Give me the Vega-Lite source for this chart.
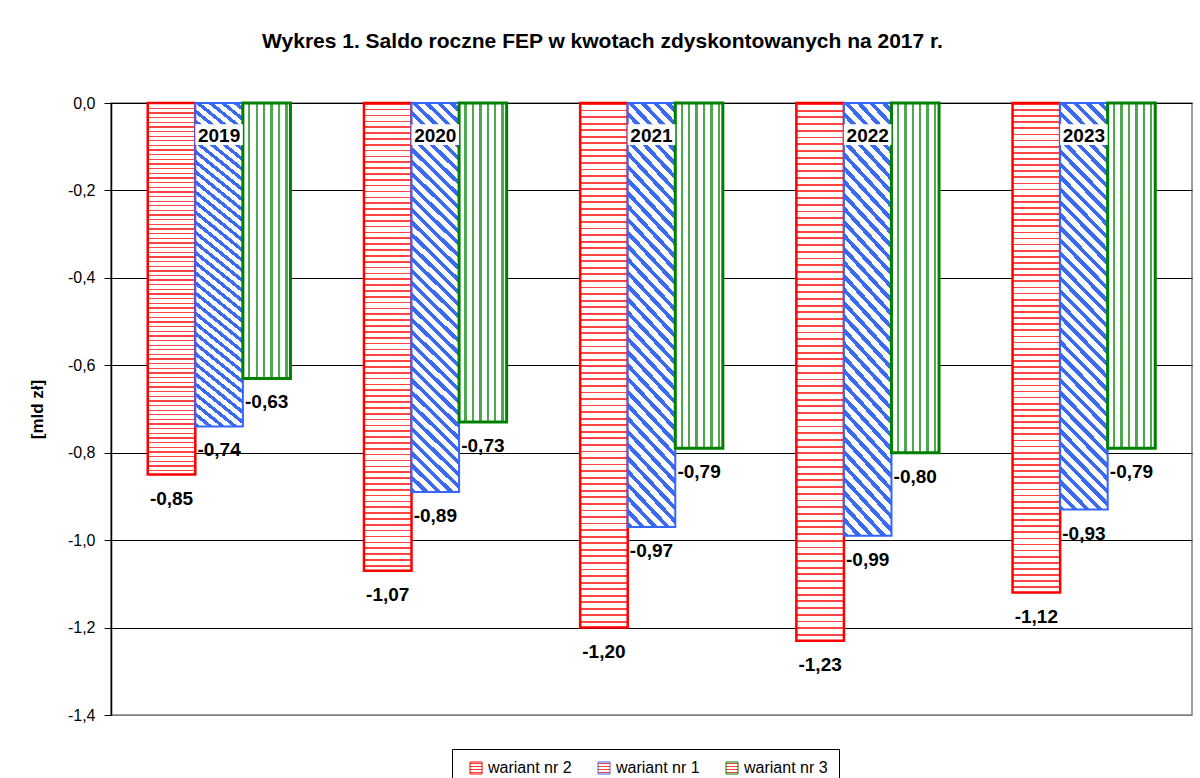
{
  "$schema": "https://vega.github.io/schema/vega-lite/v6.json",
  "width": 1081,
  "height": 612,
  "autosize": "none",
  "padding": {"left": 111, "top": 103, "right": 8, "bottom": 63},
  "background": "white",
  "title": {
    "text": "Wykres 1. Saldo roczne FEP w kwotach zdyskontowanych na 2017 r.",
    "font": "Liberation Sans",
    "fontSize": 21,
    "fontWeight": "bold",
    "color": "black",
    "anchor": "middle",
    "dx": -49,
    "offset": 43
  },
  "config": {
    "locale": {"number": {"decimal": ",", "thousands": " ", "grouping": [3], "currency": ["", " zł"], "minus": "-"}},
    "view": {"stroke": "#808080", "strokeWidth": 1.5}
  },
  "data": {
    "values": [
      {"year": "2019", "series": "wariant nr 2", "value": -0.85},
      {"year": "2019", "series": "wariant nr 1", "value": -0.74},
      {"year": "2019", "series": "wariant nr 3", "value": -0.63},
      {"year": "2020", "series": "wariant nr 2", "value": -1.07},
      {"year": "2020", "series": "wariant nr 1", "value": -0.89},
      {"year": "2020", "series": "wariant nr 3", "value": -0.73},
      {"year": "2021", "series": "wariant nr 2", "value": -1.20},
      {"year": "2021", "series": "wariant nr 1", "value": -0.97},
      {"year": "2021", "series": "wariant nr 3", "value": -0.79},
      {"year": "2022", "series": "wariant nr 2", "value": -1.23},
      {"year": "2022", "series": "wariant nr 1", "value": -0.99},
      {"year": "2022", "series": "wariant nr 3", "value": -0.80},
      {"year": "2023", "series": "wariant nr 2", "value": -1.12},
      {"year": "2023", "series": "wariant nr 1", "value": -0.93},
      {"year": "2023", "series": "wariant nr 3", "value": -0.79}
    ]
  },
  "encoding": {
    "x": {"field": "year", "type": "ordinal", "scale": {"paddingInner": 0.34, "paddingOuter": 0.17}, "axis": null},
    "xOffset": {"field": "series", "type": "nominal", "scale": {"domain": ["wariant nr 2", "wariant nr 1", "wariant nr 3"], "paddingInner": 0, "paddingOuter": 0}},
    "y": {
      "field": "value", "type": "quantitative",
      "scale": {"domain": [-1.4, 0], "nice": false, "zero": false},
      "axis": {
        "title": "[mld zł]",
        "values": [0, -0.2, -0.4, -0.6, -0.8, -1, -1.2, -1.4],
        "format": ".1f",
        "labelFont": "Liberation Sans", "labelFontSize": 16, "labelColor": "black", "labelPadding": 9,
        "tickSize": 7, "tickColor": "black", "tickWidth": 1,
        "domainColor": "black", "domainWidth": 1.5,
        "grid": true, "gridWidth": 1, "gridOpacity": 1,
        "gridColor": {"condition": {"test": "datum.value < -1.35", "value": "#808080"}, "value": "black"},
        "titleFont": "Liberation Sans", "titleFontSize": 17, "titleFontWeight": "bold", "titleColor": "black", "titlePadding": 21
      }
    }
  },
  "layer": [
    {
      "transform": [{"filter": "datum.series === 'wariant nr 2'"}],
      "mark": {"type": "bar", "strokeWidth": 2.5, "fill": {"gradient": "linear", "x1": 0, "y1": 0, "x2": 0, "y2": 1, "stops": [
        {"offset":0,"color":"#f44"},{"offset":0.0035,"color":"#f44"},{"offset":0.0035,"color":"#fff"},{"offset":0.0125,"color":"#fff"},{"offset":0.0125,"color":"#f44"},{"offset":0.016,"color":"#f44"},{"offset":0.016,"color":"#fff"},{"offset":0.025,"color":"#fff"},{"offset":0.025,"color":"#f44"},{"offset":0.0285,"color":"#f44"},{"offset":0.0285,"color":"#fff"},{"offset":0.0375,"color":"#fff"},{"offset":0.0375,"color":"#f44"},{"offset":0.041,"color":"#f44"},{"offset":0.041,"color":"#fff"},{"offset":0.05,"color":"#fff"},
        {"offset":0.05,"color":"#f44"},{"offset":0.0535,"color":"#f44"},{"offset":0.0535,"color":"#fff"},{"offset":0.0625,"color":"#fff"},{"offset":0.0625,"color":"#f44"},{"offset":0.066,"color":"#f44"},{"offset":0.066,"color":"#fff"},{"offset":0.075,"color":"#fff"},{"offset":0.075,"color":"#f44"},{"offset":0.0785,"color":"#f44"},{"offset":0.0785,"color":"#fff"},{"offset":0.0875,"color":"#fff"},{"offset":0.0875,"color":"#f44"},{"offset":0.091,"color":"#f44"},{"offset":0.091,"color":"#fff"},{"offset":0.1,"color":"#fff"},
        {"offset":0.1,"color":"#f44"},{"offset":0.1035,"color":"#f44"},{"offset":0.1035,"color":"#fff"},{"offset":0.1125,"color":"#fff"},{"offset":0.1125,"color":"#f44"},{"offset":0.116,"color":"#f44"},{"offset":0.116,"color":"#fff"},{"offset":0.125,"color":"#fff"},{"offset":0.125,"color":"#f44"},{"offset":0.1285,"color":"#f44"},{"offset":0.1285,"color":"#fff"},{"offset":0.1375,"color":"#fff"},{"offset":0.1375,"color":"#f44"},{"offset":0.141,"color":"#f44"},{"offset":0.141,"color":"#fff"},{"offset":0.15,"color":"#fff"},
        {"offset":0.15,"color":"#f44"},{"offset":0.1535,"color":"#f44"},{"offset":0.1535,"color":"#fff"},{"offset":0.1625,"color":"#fff"},{"offset":0.1625,"color":"#f44"},{"offset":0.166,"color":"#f44"},{"offset":0.166,"color":"#fff"},{"offset":0.175,"color":"#fff"},{"offset":0.175,"color":"#f44"},{"offset":0.1785,"color":"#f44"},{"offset":0.1785,"color":"#fff"},{"offset":0.1875,"color":"#fff"},{"offset":0.1875,"color":"#f44"},{"offset":0.191,"color":"#f44"},{"offset":0.191,"color":"#fff"},{"offset":0.2,"color":"#fff"},
        {"offset":0.2,"color":"#f44"},{"offset":0.2035,"color":"#f44"},{"offset":0.2035,"color":"#fff"},{"offset":0.2125,"color":"#fff"},{"offset":0.2125,"color":"#f44"},{"offset":0.216,"color":"#f44"},{"offset":0.216,"color":"#fff"},{"offset":0.225,"color":"#fff"},{"offset":0.225,"color":"#f44"},{"offset":0.2285,"color":"#f44"},{"offset":0.2285,"color":"#fff"},{"offset":0.2375,"color":"#fff"},{"offset":0.2375,"color":"#f44"},{"offset":0.241,"color":"#f44"},{"offset":0.241,"color":"#fff"},{"offset":0.25,"color":"#fff"},
        {"offset":0.25,"color":"#f44"},{"offset":0.2535,"color":"#f44"},{"offset":0.2535,"color":"#fff"},{"offset":0.2625,"color":"#fff"},{"offset":0.2625,"color":"#f44"},{"offset":0.266,"color":"#f44"},{"offset":0.266,"color":"#fff"},{"offset":0.275,"color":"#fff"},{"offset":0.275,"color":"#f44"},{"offset":0.2785,"color":"#f44"},{"offset":0.2785,"color":"#fff"},{"offset":0.2875,"color":"#fff"},{"offset":0.2875,"color":"#f44"},{"offset":0.291,"color":"#f44"},{"offset":0.291,"color":"#fff"},{"offset":0.3,"color":"#fff"},
        {"offset":0.3,"color":"#f44"},{"offset":0.3035,"color":"#f44"},{"offset":0.3035,"color":"#fff"},{"offset":0.3125,"color":"#fff"},{"offset":0.3125,"color":"#f44"},{"offset":0.316,"color":"#f44"},{"offset":0.316,"color":"#fff"},{"offset":0.325,"color":"#fff"},{"offset":0.325,"color":"#f44"},{"offset":0.3285,"color":"#f44"},{"offset":0.3285,"color":"#fff"},{"offset":0.3375,"color":"#fff"},{"offset":0.3375,"color":"#f44"},{"offset":0.341,"color":"#f44"},{"offset":0.341,"color":"#fff"},{"offset":0.35,"color":"#fff"},
        {"offset":0.35,"color":"#f44"},{"offset":0.3535,"color":"#f44"},{"offset":0.3535,"color":"#fff"},{"offset":0.3625,"color":"#fff"},{"offset":0.3625,"color":"#f44"},{"offset":0.366,"color":"#f44"},{"offset":0.366,"color":"#fff"},{"offset":0.375,"color":"#fff"},{"offset":0.375,"color":"#f44"},{"offset":0.3785,"color":"#f44"},{"offset":0.3785,"color":"#fff"},{"offset":0.3875,"color":"#fff"},{"offset":0.3875,"color":"#f44"},{"offset":0.391,"color":"#f44"},{"offset":0.391,"color":"#fff"},{"offset":0.4,"color":"#fff"},
        {"offset":0.4,"color":"#f44"},{"offset":0.4035,"color":"#f44"},{"offset":0.4035,"color":"#fff"},{"offset":0.4125,"color":"#fff"},{"offset":0.4125,"color":"#f44"},{"offset":0.416,"color":"#f44"},{"offset":0.416,"color":"#fff"},{"offset":0.425,"color":"#fff"},{"offset":0.425,"color":"#f44"},{"offset":0.4285,"color":"#f44"},{"offset":0.4285,"color":"#fff"},{"offset":0.4375,"color":"#fff"},{"offset":0.4375,"color":"#f44"},{"offset":0.441,"color":"#f44"},{"offset":0.441,"color":"#fff"},{"offset":0.45,"color":"#fff"},
        {"offset":0.45,"color":"#f44"},{"offset":0.4535,"color":"#f44"},{"offset":0.4535,"color":"#fff"},{"offset":0.4625,"color":"#fff"},{"offset":0.4625,"color":"#f44"},{"offset":0.466,"color":"#f44"},{"offset":0.466,"color":"#fff"},{"offset":0.475,"color":"#fff"},{"offset":0.475,"color":"#f44"},{"offset":0.4785,"color":"#f44"},{"offset":0.4785,"color":"#fff"},{"offset":0.4875,"color":"#fff"},{"offset":0.4875,"color":"#f44"},{"offset":0.491,"color":"#f44"},{"offset":0.491,"color":"#fff"},{"offset":0.5,"color":"#fff"},
        {"offset":0.5,"color":"#f44"},{"offset":0.5035,"color":"#f44"},{"offset":0.5035,"color":"#fff"},{"offset":0.5125,"color":"#fff"},{"offset":0.5125,"color":"#f44"},{"offset":0.516,"color":"#f44"},{"offset":0.516,"color":"#fff"},{"offset":0.525,"color":"#fff"},{"offset":0.525,"color":"#f44"},{"offset":0.5285,"color":"#f44"},{"offset":0.5285,"color":"#fff"},{"offset":0.5375,"color":"#fff"},{"offset":0.5375,"color":"#f44"},{"offset":0.541,"color":"#f44"},{"offset":0.541,"color":"#fff"},{"offset":0.55,"color":"#fff"},
        {"offset":0.55,"color":"#f44"},{"offset":0.5535,"color":"#f44"},{"offset":0.5535,"color":"#fff"},{"offset":0.5625,"color":"#fff"},{"offset":0.5625,"color":"#f44"},{"offset":0.566,"color":"#f44"},{"offset":0.566,"color":"#fff"},{"offset":0.575,"color":"#fff"},{"offset":0.575,"color":"#f44"},{"offset":0.5785,"color":"#f44"},{"offset":0.5785,"color":"#fff"},{"offset":0.5875,"color":"#fff"},{"offset":0.5875,"color":"#f44"},{"offset":0.591,"color":"#f44"},{"offset":0.591,"color":"#fff"},{"offset":0.6,"color":"#fff"},
        {"offset":0.6,"color":"#f44"},{"offset":0.6035,"color":"#f44"},{"offset":0.6035,"color":"#fff"},{"offset":0.6125,"color":"#fff"},{"offset":0.6125,"color":"#f44"},{"offset":0.616,"color":"#f44"},{"offset":0.616,"color":"#fff"},{"offset":0.625,"color":"#fff"},{"offset":0.625,"color":"#f44"},{"offset":0.6285,"color":"#f44"},{"offset":0.6285,"color":"#fff"},{"offset":0.6375,"color":"#fff"},{"offset":0.6375,"color":"#f44"},{"offset":0.641,"color":"#f44"},{"offset":0.641,"color":"#fff"},{"offset":0.65,"color":"#fff"},
        {"offset":0.65,"color":"#f44"},{"offset":0.6535,"color":"#f44"},{"offset":0.6535,"color":"#fff"},{"offset":0.6625,"color":"#fff"},{"offset":0.6625,"color":"#f44"},{"offset":0.666,"color":"#f44"},{"offset":0.666,"color":"#fff"},{"offset":0.675,"color":"#fff"},{"offset":0.675,"color":"#f44"},{"offset":0.6785,"color":"#f44"},{"offset":0.6785,"color":"#fff"},{"offset":0.6875,"color":"#fff"},{"offset":0.6875,"color":"#f44"},{"offset":0.691,"color":"#f44"},{"offset":0.691,"color":"#fff"},{"offset":0.7,"color":"#fff"},
        {"offset":0.7,"color":"#f44"},{"offset":0.7035,"color":"#f44"},{"offset":0.7035,"color":"#fff"},{"offset":0.7125,"color":"#fff"},{"offset":0.7125,"color":"#f44"},{"offset":0.716,"color":"#f44"},{"offset":0.716,"color":"#fff"},{"offset":0.725,"color":"#fff"},{"offset":0.725,"color":"#f44"},{"offset":0.7285,"color":"#f44"},{"offset":0.7285,"color":"#fff"},{"offset":0.7375,"color":"#fff"},{"offset":0.7375,"color":"#f44"},{"offset":0.741,"color":"#f44"},{"offset":0.741,"color":"#fff"},{"offset":0.75,"color":"#fff"},
        {"offset":0.75,"color":"#f44"},{"offset":0.7535,"color":"#f44"},{"offset":0.7535,"color":"#fff"},{"offset":0.7625,"color":"#fff"},{"offset":0.7625,"color":"#f44"},{"offset":0.766,"color":"#f44"},{"offset":0.766,"color":"#fff"},{"offset":0.775,"color":"#fff"},{"offset":0.775,"color":"#f44"},{"offset":0.7785,"color":"#f44"},{"offset":0.7785,"color":"#fff"},{"offset":0.7875,"color":"#fff"},{"offset":0.7875,"color":"#f44"},{"offset":0.791,"color":"#f44"},{"offset":0.791,"color":"#fff"},{"offset":0.8,"color":"#fff"},
        {"offset":0.8,"color":"#f44"},{"offset":0.8035,"color":"#f44"},{"offset":0.8035,"color":"#fff"},{"offset":0.8125,"color":"#fff"},{"offset":0.8125,"color":"#f44"},{"offset":0.816,"color":"#f44"},{"offset":0.816,"color":"#fff"},{"offset":0.825,"color":"#fff"},{"offset":0.825,"color":"#f44"},{"offset":0.8285,"color":"#f44"},{"offset":0.8285,"color":"#fff"},{"offset":0.8375,"color":"#fff"},{"offset":0.8375,"color":"#f44"},{"offset":0.841,"color":"#f44"},{"offset":0.841,"color":"#fff"},{"offset":0.85,"color":"#fff"},
        {"offset":0.85,"color":"#f44"},{"offset":0.8535,"color":"#f44"},{"offset":0.8535,"color":"#fff"},{"offset":0.8625,"color":"#fff"},{"offset":0.8625,"color":"#f44"},{"offset":0.866,"color":"#f44"},{"offset":0.866,"color":"#fff"},{"offset":0.875,"color":"#fff"},{"offset":0.875,"color":"#f44"},{"offset":0.8785,"color":"#f44"},{"offset":0.8785,"color":"#fff"},{"offset":0.8875,"color":"#fff"},{"offset":0.8875,"color":"#f44"},{"offset":0.891,"color":"#f44"},{"offset":0.891,"color":"#fff"},{"offset":0.9,"color":"#fff"},
        {"offset":0.9,"color":"#f44"},{"offset":0.9035,"color":"#f44"},{"offset":0.9035,"color":"#fff"},{"offset":0.9125,"color":"#fff"},{"offset":0.9125,"color":"#f44"},{"offset":0.916,"color":"#f44"},{"offset":0.916,"color":"#fff"},{"offset":0.925,"color":"#fff"},{"offset":0.925,"color":"#f44"},{"offset":0.9285,"color":"#f44"},{"offset":0.9285,"color":"#fff"},{"offset":0.9375,"color":"#fff"},{"offset":0.9375,"color":"#f44"},{"offset":0.941,"color":"#f44"},{"offset":0.941,"color":"#fff"},{"offset":0.95,"color":"#fff"},
        {"offset":0.95,"color":"#f44"},{"offset":0.9535,"color":"#f44"},{"offset":0.9535,"color":"#fff"},{"offset":0.9625,"color":"#fff"},{"offset":0.9625,"color":"#f44"},{"offset":0.966,"color":"#f44"},{"offset":0.966,"color":"#fff"},{"offset":0.975,"color":"#fff"},{"offset":0.975,"color":"#f44"},{"offset":0.9785,"color":"#f44"},{"offset":0.9785,"color":"#fff"},{"offset":0.9875,"color":"#fff"},{"offset":0.9875,"color":"#f44"},{"offset":0.991,"color":"#f44"},{"offset":0.991,"color":"#fff"},{"offset":1,"color":"#fff"}
      ]}},
      "encoding": {
        "stroke": {
          "field": "series", "type": "nominal",
          "scale": {"domain": ["wariant nr 2", "wariant nr 1", "wariant nr 3"], "range": ["#ff0000", "#3366ff", "#008000"]},
          "legend": {
            "title": null, "orient": "none", "legendX": 341, "legendY": 646, "direction": "horizontal",
            "strokeColor": "black", "padding": 11, "symbolOffset": 5,
            "symbolType": "square", "symbolSize": 144, "symbolStrokeWidth": 1,
            "labelFont": "Liberation Sans", "labelFontSize": 16, "labelColor": "black", "labelOffset": 4,
            "columnPadding": 19,
            "encode": {"symbols": {"update": {"fill": {"scale": "stroke", "field": "value"}, "fillOpacity": {"value": 1}}}}
          }
        }
      }
    },
    {
      "transform": [{"filter": "datum.series === 'wariant nr 1'"}],
      "mark": {"type": "bar", "strokeWidth": 2, "fill": {"gradient": "linear", "x1": 0, "y1": 1, "x2": 0.131, "y2": -0.1, "stops": [
        {"offset":0,"color":"#3a6af2"},{"offset":0.012,"color":"#3a6af2"},{"offset":0.012,"color":"#fff"},{"offset":0.028,"color":"#fff"},
        {"offset":0.028,"color":"#3a6af2"},{"offset":0.04,"color":"#3a6af2"},{"offset":0.04,"color":"#fff"},{"offset":0.056,"color":"#fff"},
        {"offset":0.056,"color":"#3a6af2"},{"offset":0.068,"color":"#3a6af2"},{"offset":0.068,"color":"#fff"},{"offset":0.084,"color":"#fff"},
        {"offset":0.084,"color":"#3a6af2"},{"offset":0.096,"color":"#3a6af2"},{"offset":0.096,"color":"#fff"},{"offset":0.112,"color":"#fff"},
        {"offset":0.112,"color":"#3a6af2"},{"offset":0.124,"color":"#3a6af2"},{"offset":0.124,"color":"#fff"},{"offset":0.14,"color":"#fff"},
        {"offset":0.14,"color":"#3a6af2"},{"offset":0.152,"color":"#3a6af2"},{"offset":0.152,"color":"#fff"},{"offset":0.168,"color":"#fff"},
        {"offset":0.168,"color":"#3a6af2"},{"offset":0.18,"color":"#3a6af2"},{"offset":0.18,"color":"#fff"},{"offset":0.196,"color":"#fff"},
        {"offset":0.196,"color":"#3a6af2"},{"offset":0.208,"color":"#3a6af2"},{"offset":0.208,"color":"#fff"},{"offset":0.224,"color":"#fff"},
        {"offset":0.224,"color":"#3a6af2"},{"offset":0.236,"color":"#3a6af2"},{"offset":0.236,"color":"#fff"},{"offset":0.252,"color":"#fff"},
        {"offset":0.252,"color":"#3a6af2"},{"offset":0.264,"color":"#3a6af2"},{"offset":0.264,"color":"#fff"},{"offset":0.28,"color":"#fff"},
        {"offset":0.28,"color":"#3a6af2"},{"offset":0.292,"color":"#3a6af2"},{"offset":0.292,"color":"#fff"},{"offset":0.308,"color":"#fff"},
        {"offset":0.308,"color":"#3a6af2"},{"offset":0.32,"color":"#3a6af2"},{"offset":0.32,"color":"#fff"},{"offset":0.336,"color":"#fff"},
        {"offset":0.336,"color":"#3a6af2"},{"offset":0.348,"color":"#3a6af2"},{"offset":0.348,"color":"#fff"},{"offset":0.364,"color":"#fff"},
        {"offset":0.364,"color":"#3a6af2"},{"offset":0.376,"color":"#3a6af2"},{"offset":0.376,"color":"#fff"},{"offset":0.392,"color":"#fff"},
        {"offset":0.392,"color":"#3a6af2"},{"offset":0.404,"color":"#3a6af2"},{"offset":0.404,"color":"#fff"},{"offset":0.42,"color":"#fff"},
        {"offset":0.42,"color":"#3a6af2"},{"offset":0.432,"color":"#3a6af2"},{"offset":0.432,"color":"#fff"},{"offset":0.448,"color":"#fff"},
        {"offset":0.448,"color":"#3a6af2"},{"offset":0.46,"color":"#3a6af2"},{"offset":0.46,"color":"#fff"},{"offset":0.476,"color":"#fff"},
        {"offset":0.476,"color":"#3a6af2"},{"offset":0.488,"color":"#3a6af2"},{"offset":0.488,"color":"#fff"},{"offset":0.504,"color":"#fff"},
        {"offset":0.504,"color":"#3a6af2"},{"offset":0.516,"color":"#3a6af2"},{"offset":0.516,"color":"#fff"},{"offset":0.532,"color":"#fff"},
        {"offset":0.532,"color":"#3a6af2"},{"offset":0.544,"color":"#3a6af2"},{"offset":0.544,"color":"#fff"},{"offset":0.56,"color":"#fff"},
        {"offset":0.56,"color":"#3a6af2"},{"offset":0.572,"color":"#3a6af2"},{"offset":0.572,"color":"#fff"},{"offset":0.588,"color":"#fff"},
        {"offset":0.588,"color":"#3a6af2"},{"offset":0.6,"color":"#3a6af2"},{"offset":0.6,"color":"#fff"},{"offset":0.616,"color":"#fff"},
        {"offset":0.616,"color":"#3a6af2"},{"offset":0.628,"color":"#3a6af2"},{"offset":0.628,"color":"#fff"},{"offset":0.644,"color":"#fff"},
        {"offset":0.644,"color":"#3a6af2"},{"offset":0.656,"color":"#3a6af2"},{"offset":0.656,"color":"#fff"},{"offset":0.672,"color":"#fff"},
        {"offset":0.672,"color":"#3a6af2"},{"offset":0.684,"color":"#3a6af2"},{"offset":0.684,"color":"#fff"},{"offset":0.7,"color":"#fff"},
        {"offset":0.7,"color":"#3a6af2"},{"offset":0.712,"color":"#3a6af2"},{"offset":0.712,"color":"#fff"},{"offset":0.728,"color":"#fff"},
        {"offset":0.728,"color":"#3a6af2"},{"offset":0.74,"color":"#3a6af2"},{"offset":0.74,"color":"#fff"},{"offset":0.756,"color":"#fff"},
        {"offset":0.756,"color":"#3a6af2"},{"offset":0.768,"color":"#3a6af2"},{"offset":0.768,"color":"#fff"},{"offset":0.784,"color":"#fff"},
        {"offset":0.784,"color":"#3a6af2"},{"offset":0.796,"color":"#3a6af2"},{"offset":0.796,"color":"#fff"},{"offset":0.812,"color":"#fff"},
        {"offset":0.812,"color":"#3a6af2"},{"offset":0.824,"color":"#3a6af2"},{"offset":0.824,"color":"#fff"},{"offset":0.84,"color":"#fff"},
        {"offset":0.84,"color":"#3a6af2"},{"offset":0.852,"color":"#3a6af2"},{"offset":0.852,"color":"#fff"},{"offset":0.868,"color":"#fff"},
        {"offset":0.868,"color":"#3a6af2"},{"offset":0.88,"color":"#3a6af2"},{"offset":0.88,"color":"#fff"},{"offset":0.896,"color":"#fff"},
        {"offset":0.896,"color":"#3a6af2"},{"offset":0.908,"color":"#3a6af2"},{"offset":0.908,"color":"#fff"},{"offset":0.924,"color":"#fff"},
        {"offset":0.924,"color":"#3a6af2"},{"offset":0.936,"color":"#3a6af2"},{"offset":0.936,"color":"#fff"},{"offset":0.952,"color":"#fff"},
        {"offset":0.952,"color":"#3a6af2"},{"offset":0.964,"color":"#3a6af2"},{"offset":0.964,"color":"#fff"},{"offset":0.98,"color":"#fff"},
        {"offset":0.98,"color":"#3a6af2"},{"offset":0.992,"color":"#3a6af2"},{"offset":0.992,"color":"#fff"},{"offset":1,"color":"#fff"}
      ]}},
      "encoding": {
        "stroke": {"field": "series", "type": "nominal", "scale": {"domain": ["wariant nr 2", "wariant nr 1", "wariant nr 3"], "range": ["#ff0000", "#3366ff", "#008000"]}}
      }
    },
    {
      "transform": [{"filter": "datum.series === 'wariant nr 3'"}],
      "mark": {"type": "bar", "strokeWidth": 3, "fill": {"gradient": "linear", "x1": 0, "y1": 0, "x2": 1, "y2": 0, "stops": [
        {"offset":0,"color":"#fff"},{"offset":0.11,"color":"#fff"},{"offset":0.11,"color":"#4fa84f"},{"offset":0.16,"color":"#4fa84f"},
        {"offset":0.16,"color":"#fff"},{"offset":0.266,"color":"#fff"},{"offset":0.266,"color":"#4fa84f"},{"offset":0.316,"color":"#4fa84f"},
        {"offset":0.316,"color":"#fff"},{"offset":0.422,"color":"#fff"},{"offset":0.422,"color":"#4fa84f"},{"offset":0.472,"color":"#4fa84f"},
        {"offset":0.472,"color":"#fff"},{"offset":0.578,"color":"#fff"},{"offset":0.578,"color":"#4fa84f"},{"offset":0.628,"color":"#4fa84f"},
        {"offset":0.628,"color":"#fff"},{"offset":0.734,"color":"#fff"},{"offset":0.734,"color":"#4fa84f"},{"offset":0.784,"color":"#4fa84f"},
        {"offset":0.784,"color":"#fff"},{"offset":0.89,"color":"#fff"},{"offset":0.89,"color":"#4fa84f"},{"offset":0.94,"color":"#4fa84f"},
        {"offset":0.94,"color":"#fff"},{"offset":1,"color":"#fff"}
      ]}},
      "encoding": {
        "stroke": {"field": "series", "type": "nominal", "scale": {"domain": ["wariant nr 2", "wariant nr 1", "wariant nr 3"], "range": ["#ff0000", "#3366ff", "#008000"]}}
      }
    },
    {
      "transform": [{"filter": "datum.series === 'wariant nr 1'"}],
      "mark": {"type": "bar", "fill": "white", "strokeWidth": 0},
      "encoding": {"y": {"datum": -0.0487}, "y2": {"datum": -0.0961}}
    },
    {
      "transform": [{"filter": "datum.series === 'wariant nr 1'"}],
      "mark": {"type": "text", "font": "Liberation Sans", "fontSize": 19, "fontWeight": "bold", "color": "black", "align": "center", "baseline": "alphabetic"},
      "encoding": {"y": {"datum": -0.0885}, "text": {"field": "year"}}
    },
    {
      "mark": {"type": "text", "font": "Liberation Sans", "fontSize": 19, "fontWeight": "bold", "color": "black", "align": "center", "baseline": "alphabetic", "dy": 30},
      "encoding": {"text": {"field": "value", "type": "quantitative", "format": ".2f"}}
    }
  ]
}
